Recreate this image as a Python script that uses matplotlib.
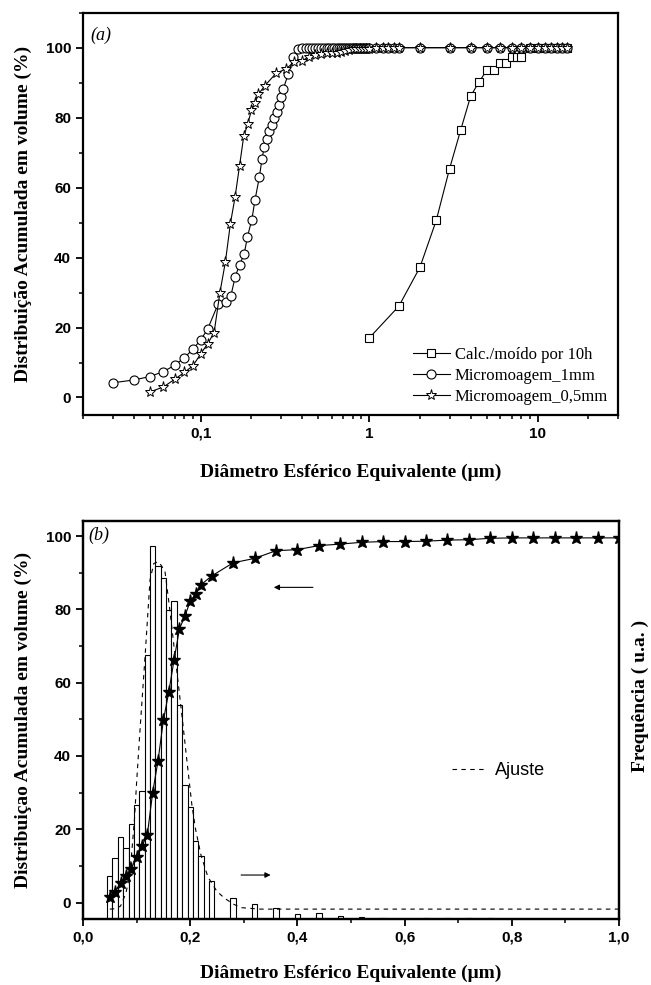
import matplotlib
matplotlib.use('Agg')
import matplotlib.pyplot as plt
from matplotlib.ticker import LogLocator, NullFormatter, MultipleLocator
from matplotlib.font_manager import FontProperties

##dados

#(a) Calc./moído por 10h
calc_x = [1, 1.5, 2, 2.5, 3, 3.5, 4, 4.5, 5, 5.5, 6, 6.5, 7, 7.5, 8,
          9, 10, 11, 12, 13, 14, 15]
calc_y = [17.0, 26.1, 37.2, 50.6, 65.4, 76.6, 86.1, 90.3, 93.6, 93.6, 95.6, 95.6, 97.2, 97.2, 97.2,
          99.8, 100, 100, 100, 100, 100, 100]

#(a) Micromoagem_1mm
mm1_x = [0.03, 0.04, 0.05, 0.06, 0.07, 0.08, 0.09, 0.10, 0.11, 0.127, 0.141, 0.151, 0.160,
         0.170, 0.181, 0.189, 0.201, 0.210, 0.223, 0.231, 0.238, 0.247, 0.255, 0.264, 0.272,
         0.282, 0.292, 0.300, 0.309, 0.331, 0.355, 0.38,
         0.40, 0.42, 0.44, 0.46, 0.48, 0.50, 0.52, 0.54, 0.56, 0.58, 0.60, 0.62, 0.64, 0.66,
         0.68, 0.70, 0.72, 0.74, 0.76, 0.78, 0.80, 0.82, 0.84, 0.86, 0.88, 0.90, 0.92, 0.94,
         0.96, 0.98, 1.0, 1.1, 1.2, 1.3, 1.4, 1.5,
         2, 3, 4, 5, 6, 7, 8, 9, 10, 11, 12, 13, 14, 15]
mm1_y = [4.2, 5.0, 6.0, 7.4, 9.2, 11.4, 13.8, 16.5, 19.6, 26.8, 27.2, 29.1, 34.4,
         38.0, 40.9, 45.8, 50.8, 56.5, 63.1, 68.2, 71.5, 73.9, 76.3, 77.9, 79.9,
         81.7, 83.7, 86.0, 88.2, 92.5, 97.2, 99.6,
         100, 100, 100, 100, 100, 100, 100, 100, 100, 100, 100, 100, 100, 100,
         100, 100, 100, 100, 100, 100, 100, 100, 100, 100, 100, 100, 100, 100,
         100, 100, 100, 100, 100, 100, 100, 100,
         100, 100, 100, 100, 100, 100, 100, 100, 100, 100, 100, 100, 100, 100]

#Micromoagem_0,5mm (mesma curva em (a) e (b))
mm05_x = [0.05, 0.06, 0.07, 0.08, 0.09, 0.10, 0.11, 0.12, 0.13, 0.14, 0.15, 0.16, 0.17,
          0.18, 0.19, 0.20, 0.21, 0.22, 0.24, 0.28, 0.32, 0.36, 0.40, 0.44, 0.48, 0.52,
          0.56, 0.60, 0.64, 0.68, 0.72, 0.76, 0.80, 0.84, 0.88, 0.92, 0.96, 1.00]
mm05_y = [1.6, 3.0, 5.2, 7.2, 9.1, 12.5, 15.4, 18.5, 30.0, 38.7, 49.7, 57.4, 66.3,
          74.7, 78.1, 82.2, 84.2, 86.7, 89.1, 92.7, 93.9, 96.0, 96.3, 97.4, 97.8, 98.3,
          98.5, 98.5, 98.6, 98.9, 99.0, 99.4, 99.5, 99.5, 99.5, 99.5, 99.5, 99.5]
mm05_tail_x = [1.1, 1.2, 1.3, 1.4, 1.5, 2, 3, 4, 5, 6, 7, 8, 9, 10, 11, 12, 13, 14, 15]
mm05_tail_y = [100, 100, 100, 100, 100, 100, 100, 100, 100, 100, 100, 100, 100, 100,
               100, 100, 100, 100, 100]

#(b) histograma (frequência, u.a.)
hist_x = [0.05, 0.06, 0.07, 0.08, 0.09, 0.10, 0.11, 0.12, 0.13, 0.14, 0.15, 0.16, 0.17,
          0.18, 0.19, 0.20, 0.21, 0.22, 0.24, 0.28, 0.32, 0.36, 0.40, 0.44, 0.48, 0.52,
          0.56, 0.60, 0.64, 0.68, 0.72, 0.76]
hist_f = [11.7, 16.7, 22.4, 19.3, 25.8, 31.2, 35.0, 72.1, 101.8, 96.3, 93.0, 84.4, 86.9,
          58.5, 36.7, 30.7, 21.4, 17.1, 10.4, 5.7, 4.1, 3.0, 1.4, 1.6, 0.8, 0.5,
          0.2, 0.0, 0.3, 0.3, 0.3, 0.3]

#(b) ajuste
fit_x = [0.05, 0.06, 0.07, 0.08, 0.085, 0.09, 0.096, 0.100, 0.106, 0.116, 0.125, 0.132,
         0.14, 0.146, 0.153, 0.162, 0.172, 0.184, 0.195, 0.203, 0.21, 0.22, 0.233, 0.25,
         0.264, 0.28, 0.295, 0.33, 0.40, 0.60, 1.0]
fit_y = [-1.8, -1.7, -1.0, 2.5, 6.0, 12.0, 22.7, 32.7, 46.3, 67.6, 88.0, 92.5,
         93.0, 92.0, 90.3, 79.9, 67.0, 51.8, 37.2, 26.8, 20.0, 13.0, 7.0, 3.0,
         1.2, -0.4, -1.4, -1.8, -1.8, -1.8, -1.8]


serif_b = FontProperties(family='Liberation Serif', weight='bold', size=14)
tick_font = {'family': 'Liberation Sans', 'weight': 'bold', 'size': 11}


def estilo(ax):
    for s in ax.spines.values():
        s.set_linewidth(1.6)
    ax.tick_params(which='major', direction='out', length=5, width=1.3, top=False, right=False)
    ax.tick_params(which='minor', direction='out', length=3, width=1.1, top=False, right=False)
    for lab in ax.get_xticklabels() + ax.get_yticklabels():
        lab.set_fontfamily(tick_font['family'])
        lab.set_fontweight(tick_font['weight'])
        lab.set_fontsize(tick_font['size'])


fig = plt.figure(figsize=(6.51, 9.85), dpi=100)

##(a)
ax1 = fig.add_axes([0.1275, 0.5787, 0.8218, 0.4084])
ax1.plot(calc_x, calc_y, '-s', color='k', mfc='white', mec='k', ms=5.5, lw=0.8, mew=0.8,
         label='Calc./moído por 10h')
ax1.plot(mm1_x, mm1_y, '-o', color='k', mfc='white', mec='k', ms=6.5, lw=0.8, mew=0.8,
         label='Micromoagem_1mm')
ax1.plot(mm05_x + mm05_tail_x, mm05_y + mm05_tail_y, '-*', color='k', mfc='white', mec='k',
         ms=8, lw=0.8, mew=0.7, label='Micromoagem_0,5mm')
ax1.set_xscale('log')
ax1.set_xlim(0.02, 30)
ax1.set_ylim(-5, 110)
ax1.set_xticks([0.1, 1, 10])
ax1.set_xticklabels(['0,1', '1', '10'])
ax1.xaxis.set_minor_locator(LogLocator(base=10, subs=[2, 3, 4, 5, 6, 7, 8, 9]))
ax1.xaxis.set_minor_formatter(NullFormatter())
ax1.set_yticks([0, 20, 40, 60, 80, 100])
ax1.yaxis.set_minor_locator(MultipleLocator(10))
estilo(ax1)
ax1.set_xlabel('Diâmetro Esférico Equivalente (μm)', fontproperties=serif_b)
ax1.set_ylabel('Distribuição Acumulada em volume (%)', fontproperties=serif_b)
ax1.xaxis.set_label_coords(0.5, -0.12)
ax1.yaxis.set_label_coords(-0.095, 0.5)
ax1.text(0.013, 0.965, '(a)', transform=ax1.transAxes, va='top', ha='left',
         family='Liberation Serif', style='italic', size=13)
ax1.legend(loc='lower right', frameon=False,
           prop=FontProperties(family='Liberation Serif', size=12),
           handlelength=2.2, handletextpad=0.3, labelspacing=0.3, borderaxespad=0.2)

##(b)
ax2 = fig.add_axes([0.1275, 0.067, 0.8233, 0.4044])
axf = ax2.twinx()
axf.bar(hist_x, hist_f, width=0.01, color='white', edgecolor='k', lw=0.8)
axf.set_ylim(0, 108.7)
axf.set_yticks([])
axf.set_ylabel('Frequência ( u.a. )', fontproperties=serif_b)
axf.yaxis.set_label_coords(1.024, 0.56)
ax2.set_zorder(axf.get_zorder() + 1)
ax2.patch.set_visible(False)

fit_line, = ax2.plot(fit_x, fit_y, color='k', lw=0.8, ls=(0, (4, 4)))
ax2.plot(mm05_x, mm05_y, '-*', color='k', ms=9.5, lw=0.8)
ax2.set_xlim(0, 1.0)
ax2.set_ylim(-4.5, 104.2)
ax2.set_xticks([0, 0.2, 0.4, 0.6, 0.8, 1.0])
ax2.set_xticklabels(['0,0', '0,2', '0,4', '0,6', '0,8', '1,0'])
ax2.xaxis.set_minor_locator(MultipleLocator(0.1))
ax2.set_yticks([0, 20, 40, 60, 80, 100])
ax2.yaxis.set_minor_locator(MultipleLocator(10))
estilo(ax2)
for s in axf.spines.values():
    s.set_linewidth(1.6)
ax2.set_xlabel('Diâmetro Esférico Equivalente (μm)', fontproperties=serif_b)
ax2.set_ylabel('Distribuiçao Acumulada em volume (%)', fontproperties=serif_b)
ax2.xaxis.set_label_coords(0.5, -0.115)
ax2.yaxis.set_label_coords(-0.095, 0.5)
ax2.text(0.01, 0.985, '(b)', transform=ax2.transAxes, va='top', ha='left',
         family='Liberation Serif', style='italic', size=13)
ax2.legend([fit_line], ['Ajuste'], loc='center left', bbox_to_anchor=(0.688, 0.372),
           frameon=False, prop=FontProperties(family='Liberation Sans', size=13),
           handlelength=1.8, handletextpad=0.6, borderpad=0, borderaxespad=0)

#setas
ax2.annotate('', xy=(0.356, 86), xytext=(0.429, 86),
             arrowprops=dict(arrowstyle='-|>', color='k', lw=0.8, mutation_scale=8,
                             shrinkA=0, shrinkB=0))
ax2.annotate('', xy=(0.35, 7.5), xytext=(0.295, 7.5),
             arrowprops=dict(arrowstyle='-|>', color='k', lw=0.8, mutation_scale=8,
                             shrinkA=0, shrinkB=0))

plt.savefig('out.png', dpi=100)
